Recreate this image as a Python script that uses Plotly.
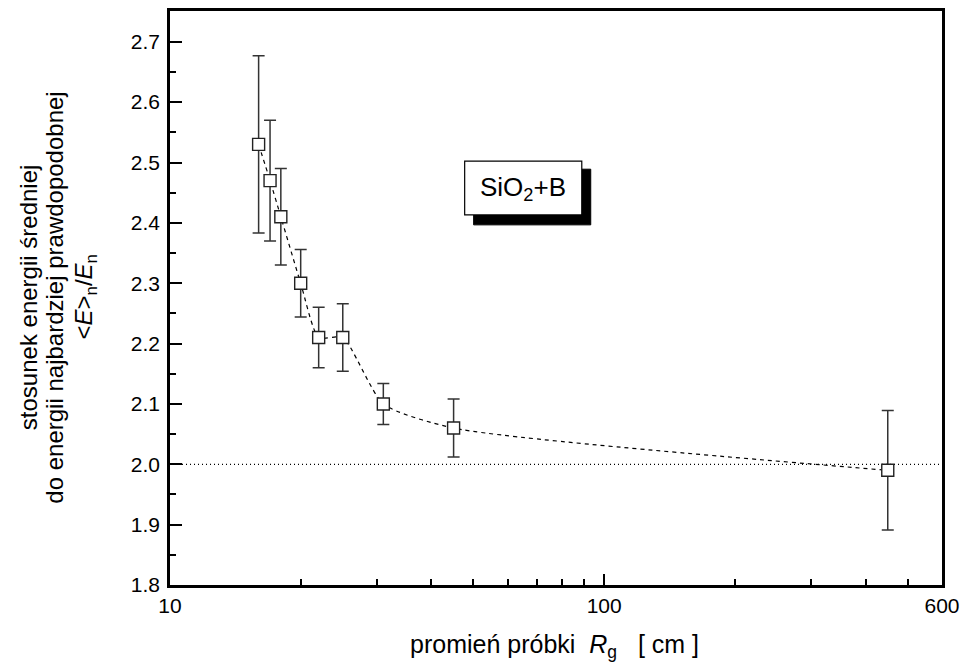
import plotly.graph_objects as go

# Sample radius R_g [cm] and ratio <E>_n / E_n with its uncertainty
radius_cm = [16, 17, 18, 20, 22, 25, 31, 45, 450]
ratio = [2.53, 2.47, 2.41, 2.30, 2.21, 2.21, 2.10, 2.06, 1.99]
ratio_err = [0.147, 0.10, 0.08, 0.056, 0.05, 0.056, 0.034, 0.048, 0.099]

ref_level = 2.0
x_ticks = [10, 100, 600]
x_minor = [20, 30, 40, 50, 60, 70, 80, 90, 200, 300, 400, 500]
y_ticks = [1.8, 1.9, 2.0, 2.1, 2.2, 2.3, 2.4, 2.5, 2.6, 2.7]
y_minor = [1.85, 1.95, 2.05, 2.15, 2.25, 2.35, 2.45, 2.55, 2.65, 2.75]

y_title_lines = [
    "stosunek energii średniej",
    "do energii najbardziej prawdopodobnej",
    "&lt;<i>E</i>&gt;<sub>n</sub>/<i>E</i><sub>n</sub>",
]
x_title = "promień próbki\u00a0\u00a0<i>R</i><sub>g</sub>\u00a0\u00a0\u00a0[ cm ]"

FONT = "Liberation Sans, Arial, Helvetica, sans-serif"

fig = go.Figure()

# smooth dashed guide through the points
fig.add_trace(go.Scatter(
    x=radius_cm, y=ratio, mode="lines",
    line=dict(color="black", width=1.2, dash="4px,4px", shape="spline", smoothing=0.6),
    hoverinfo="skip", showlegend=False,
))

# measured points with error bars
fig.add_trace(go.Scatter(
    x=radius_cm, y=ratio, mode="markers",
    marker=dict(symbol="square", size=12, color="white",
                line=dict(color="#222", width=1.4)),
    error_y=dict(type="data", array=ratio_err, visible=True,
                 color="#333", thickness=1.5, width=6),
    showlegend=False,
))

# dotted reference level
fig.add_shape(type="line", xref="paper", x0=0, x1=1, yref="y", y0=ref_level, y1=ref_level,
              line=dict(color="black", width=1.2, dash="1px,3px"), layer="below")

# sample label with drop shadow
fig.add_shape(type="rect", xref="paper", yref="paper",
              x0=0.3933, x1=0.545, y0=0.6274, y1=0.7244,
              fillcolor="black", line=dict(color="black", width=1))
fig.add_shape(type="rect", xref="paper", yref="paper",
              x0=0.3817, x1=0.5334, y0=0.6447, y1=0.7383,
              fillcolor="white", line=dict(color="black", width=1.2))
fig.add_annotation(xref="paper", yref="paper", x=0.4576, y=0.6915,
                   text="SiO<sub>2</sub>+B", showarrow=False,
                   font=dict(family=FONT, size=26, color="black"),
                   xanchor="center", yanchor="middle")

# y axis title, one annotation per line
for xpos, line in zip([-0.183, -0.150, -0.110], y_title_lines):
    fig.add_annotation(xref="paper", yref="paper", x=xpos, y=0.501,
                       text=line, textangle=-90, showarrow=False,
                       xanchor="center", yanchor="middle",
                       font=dict(family=FONT, size=24, color="black"))

# x axis title
fig.add_annotation(xref="paper", yref="paper", x=0.498, y=-0.075,
                   text=x_title, showarrow=False, xanchor="center", yanchor="top",
                   font=dict(family=FONT, size=25, color="black"))

fig.update_xaxes(
    type="log", range=[1, 2.77815],
    tickvals=x_ticks, ticktext=[str(v) for v in x_ticks],
    ticks="inside", ticklen=11, tickwidth=2, tickcolor="black",
    minor=dict(tickvals=x_minor, ticks="inside", ticklen=6, tickwidth=1.5, tickcolor="black"),
    showline=True, linewidth=2.5, linecolor="black", mirror=True,
    showgrid=False, zeroline=False,
    tickfont=dict(family=FONT, size=21, color="black"),
)
fig.update_yaxes(
    range=[1.8, 2.751],
    tickvals=y_ticks, ticktext=[f"{v:.1f}" for v in y_ticks],
    ticks="inside", ticklen=12, tickwidth=2, tickcolor="black",
    minor=dict(tickvals=y_minor, ticks="inside", ticklen=6, tickwidth=1.5, tickcolor="black"),
    showline=True, linewidth=2.5, linecolor="black", mirror=True,
    showgrid=False, zeroline=False,
    ticklabelstandoff=3,
    tickfont=dict(family=FONT, size=21, color="black"),
)

fig.update_layout(
    width=968, height=672,
    margin=dict(l=170, r=20, t=8, b=87),
    paper_bgcolor="white", plot_bgcolor="white",
    font=dict(family=FONT, color="black"),
)

fig.write_html("out.html")
